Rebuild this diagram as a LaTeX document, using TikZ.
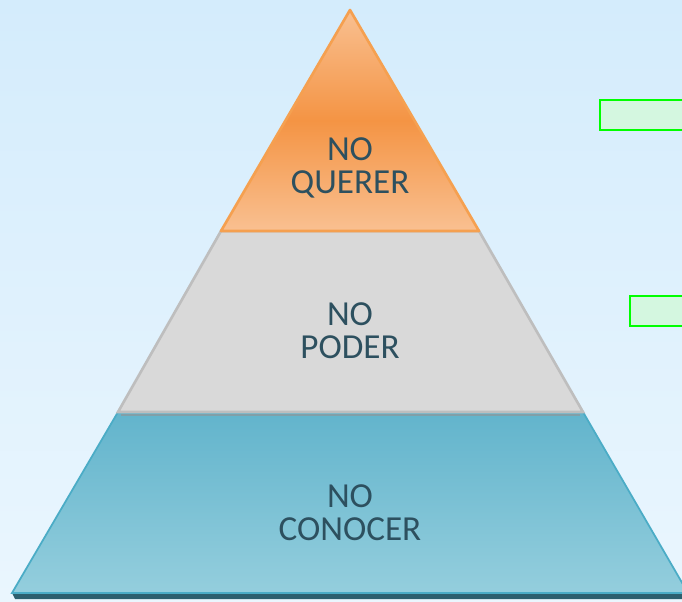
\documentclass[tikz,border=0pt]{standalone}
\usepackage{fontspec}
\setmainfont{Carlito}
\usepackage{tikz}
\definecolor{bgtop}{RGB}{212,236,252}
\definecolor{bgbottom}{RGB}{234,246,254}
\definecolor{querer1}{RGB}{249,192,145}
\definecolor{querer2}{RGB}{244,148,68}
\definecolor{quererline}{RGB}{245,160,80}
\definecolor{poder}{RGB}{217,217,217}
\definecolor{poderline}{RGB}{190,190,190}
\definecolor{conocer1}{RGB}{98,180,204}
\definecolor{conocer2}{RGB}{148,206,221}
\definecolor{conocerline}{RGB}{75,172,198}
\definecolor{shadowline}{RGB}{45,95,110}
\definecolor{labeltext}{RGB}{45,80,95}
\definecolor{boxfill}{RGB}{212,247,224}
\definecolor{boxline}{RGB}{0,255,0}
\tikzset{
  level/.style={font=\fontsize{20}{19}\selectfont, text=labeltext, align=center},
  markbox/.style={draw=boxline, fill=boxfill, line width=1.6pt}
}

\begin{document}
\begin{tikzpicture}[x=0.02cm, y=0.02cm]
    \useasboundingbox (0,0) rectangle (682,601);
    \clip (0,0) rectangle (682,601);
    % background
    \shade[top color=bgtop, bottom color=bgbottom] (0,0) rectangle (682,601);
    % bottom layer
    \fill[shadowline] (15,2) -- (690,2) -- (690,8) -- (12,8) -- cycle;
    \shade[top color=conocer1, bottom color=conocer2] (12,8) -- (688,8) -- (583,189) -- (118,189) -- cycle;
    \draw[conocerline, line width=1pt] (12,8) -- (688,8) -- (583,189) -- (118,189) -- cycle;
    \draw[shadowline!60, line width=1.5pt] (121,186) -- (580,186);
    % middle layer
    \fill[poder] (118,189) -- (583,189) -- (479,370) -- (221,370) -- cycle;
    \draw[poderline, line width=1.5pt] (118,189) -- (583,189) -- (479,370) -- (221,370) -- cycle;
    % top layer
    \shade[top color=querer1, bottom color=querer1, middle color=querer2] (221,370) -- (479,370) -- (350,591) -- cycle;
    \draw[quererline, line width=1.5pt, line join=round] (221,370) -- (479,370) -- (350,591) -- cycle;
    % labels
    \node[level] (querer) at (350,433) {NO\\QUERER};
    \node[level] (poder) at (350,270) {NO\\PODER};
    \node[level] (conocer) at (350,88) {NO\\CONOCER};
    % boxes on the right
    \draw[markbox] (600,471) rectangle (700,501);
    \draw[markbox] (630,275) rectangle (700,305);
\end{tikzpicture}
\end{document}
